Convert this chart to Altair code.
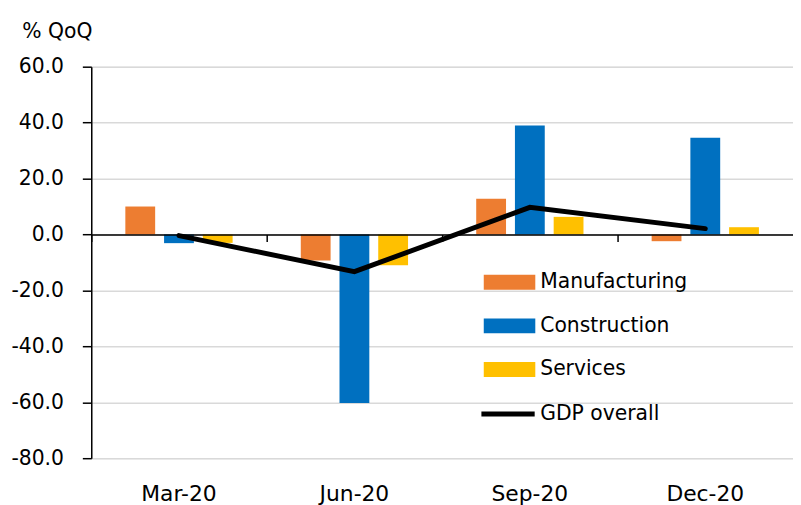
import altair as alt
import pandas as pd

quarters = ["Mar-20", "Jun-20", "Sep-20", "Dec-20"]
series_names = ["Manufacturing", "Construction", "Services"]
manufacturing = [10.0, -9.3, 12.8, -2.4]
construction = [-3.1, -60.3, 39.0, 34.6]
services = [-3.0, -11.0, 6.3, 2.6]
gdp = [-0.4, -13.3, 9.7, 2.1]
colors = ["#ED7D31", "#0070C0", "#FFC000"]
y_ticks = [-80, -60, -40, -20, 0, 20, 40, 60]

rows = []
for name, vals in zip(series_names, [manufacturing, construction, services]):
    for q, v in zip(quarters, vals):
        rows.append({"quarter": q, "series": name, "value": v})
bars_df = pd.DataFrame(rows)
line_df = pd.DataFrame({"quarter": quarters, "value": gdp})

FONT = "DejaVu Sans"
FS = 20.5
W, H = 708, 395
zero_offset = -(H * 80 / 140)

x_scale = alt.Scale(domain=quarters, paddingInner=0, paddingOuter=0)
y_scale = alt.Scale(domain=[-80, 60], nice=False, zero=False)

bars = alt.Chart(bars_df).mark_bar().encode(
    x=alt.X("quarter:N", sort=quarters, scale=x_scale,
            axis=alt.Axis(orient="bottom", title=None, labelAngle=0, labelFontSize=22,
                          labelColor="black", labelPadding=26, ticks=False, domain=False,
                          labelFont=FONT)),
    xOffset=alt.XOffset("series:N", sort=series_names,
                        scale=alt.Scale(domain=series_names, paddingInner=0.23, paddingOuter=0.88)),
    y=alt.Y("value:Q", scale=y_scale,
            axis=alt.Axis(values=y_ticks,
                          labelExpr="(datum.value < 0 ? '-' : '') + format(abs(datum.value), '.1f')",
                          title="% QoQ", titleAngle=0,
                          titleAlign="left", titleX=-70, titleY=-29, titleBaseline="alphabetic",
                          titleFontSize=FS, titleFontWeight="normal", titleFont=FONT,
                          titleColor="black",
                          labelFontSize=FS, labelFont=FONT, labelColor="black", labelPadding=19,
                          tickSize=9, tickColor="black", tickWidth=1.5,
                          domainColor="black", domainWidth=1.5,
                          grid=True, gridColor="#d9d9d9", gridWidth=1.5)),
    fill=alt.Fill("series:N", sort=series_names,
                  scale=alt.Scale(domain=series_names, range=colors),
                  legend=alt.Legend(title=None, orient="none", legendX=409.5, legendY=205,
                                    symbolType="M-2.08,-0.6H2.08V0.6H-2.08Z", symbolSize=625,
                                    symbolStrokeWidth=0, labelFontSize=FS, labelFont=FONT,
                                    labelColor="black", labelOffset=18.5, rowPadding=21,
                                    padding=0)),
)

line = alt.Chart(line_df).mark_line(strokeWidth=5, strokeCap="round", strokeJoin="miter").encode(
    x=alt.X("quarter:N", sort=quarters, scale=x_scale,
            axis=alt.Axis(orient="bottom", offset=zero_offset, labels=False, title=None,
                          ticks=True, tickSize=7, tickColor="black", tickWidth=1.5,
                          bandPosition=0, domainColor="black", domainWidth=1.5, zindex=1)),
    y=alt.Y("value:Q", scale=y_scale),
    stroke=alt.Stroke("s:N", scale=alt.Scale(domain=["GDP overall"], range=["black"]),
                      legend=alt.Legend(title=None, orient="none", legendX=405.5, legendY=335.5,
                                        symbolType="M-2.15,0H2.15", symbolSize=625,
                                        symbolStrokeWidth=5, labelFontSize=FS, labelFont=FONT,
                                        labelColor="black", labelOffset=17.5, padding=0)),
).transform_calculate(s="'GDP overall'")

chart = alt.layer(bars, line).resolve_axis(x="independent").properties(
    width=W, height=H,
    padding={"left": 84, "top": 57, "right": 0, "bottom": 45},
    autosize=alt.AutoSizeParams(type="none"),
).configure_view(strokeWidth=0).configure(font=FONT)

chart.save("out.html", embed_options={"renderer": "svg", "actions": False})
